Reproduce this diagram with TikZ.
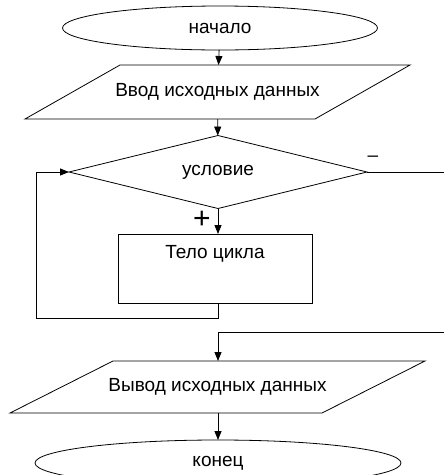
\documentclass[tikz,border=0pt]{standalone}
\usepackage{fontspec}
\setmainfont{Liberation Sans}
\usepackage{tikz}
\usetikzlibrary{shapes.geometric,arrows.meta,calc}

\tikzset{
  term/.style={ellipse, draw, line width=0.8pt, inner sep=0pt, outer sep=0pt},
  iobox/.style={rectangle, inner sep=0pt, outer sep=0pt},
  cond/.style={diamond, aspect=4, draw, line width=0.8pt, inner sep=0pt, outer sep=0pt,
    minimum width=298pt, minimum height=73pt},
  bodybox/.style={rectangle, draw, line width=0.8pt, inner sep=0pt, outer sep=0pt,
    minimum width=194pt, minimum height=69pt},
  flow/.style={line width=0.8pt, -{Triangle[length=9pt,width=7pt]}},
  line/.style={line width=0.8pt}
}

\begin{document}
\begin{tikzpicture}[x=1pt, y=-1pt, font=\fontsize{19}{22}\selectfont]
\useasboundingbox (0,0) rectangle (444,475);
\clip (0,0) rectangle (444,475);

% blocks
\node[term, minimum width=315pt, minimum height=44pt] (start) at (220,28) {начало};
\node[iobox, minimum width=385pt, minimum height=54pt] (inp) at (217.5,92) {Ввод исходных данных};
\node[cond] (cnd) at (218,172) {условие};
\node[bodybox, label={[anchor=north, yshift=-8pt]north:Тело цикла}] (body) at (215,268.5) {};
\node[iobox, minimum width=415pt, minimum height=52pt] (outp) at (217.5,387) {Вывод исходных данных};
\node[term, minimum width=366pt, minimum height=46pt] (stop) at (218,463) {конец};

% parallelogram outlines
\draw[line] ($(inp.north west)+(95,0)$) -- (inp.north east) -- ($(inp.south east)+(-95,0)$) -- (inp.south west) -- cycle;
\draw[line] ($(outp.north west)+(103,0)$) -- (outp.north east) -- ($(outp.south east)+(-103,0)$) -- (outp.south west) -- cycle;

% free ends of the branches
\coordinate (lb) at (36,318);
\coordinate (lt) at (36,172);
\coordinate (rt) at (450,172);
\coordinate (rb) at (450,332);

% connectors
\draw[flow] (start) -- (inp);
\draw[flow] (inp) -- (cnd);
\draw[flow] (cnd.south) -- (cnd.south |- body.north);
\draw[flow] (body.south -| cnd.south) |- (lb) -- (lt) -- (cnd.west);
\draw[line] (cnd.east) -- (rt) -- (rb);
\draw[flow] (rb) -| (outp.north -| cnd.south);
\draw[flow] (outp.south -| cnd.south) -- (stop);

% labels
\node[font=\fontsize{30}{32}\selectfont] (yes) at (202,220) {+};
\node (no) at (373,159) {–};
\end{tikzpicture}
\end{document}
